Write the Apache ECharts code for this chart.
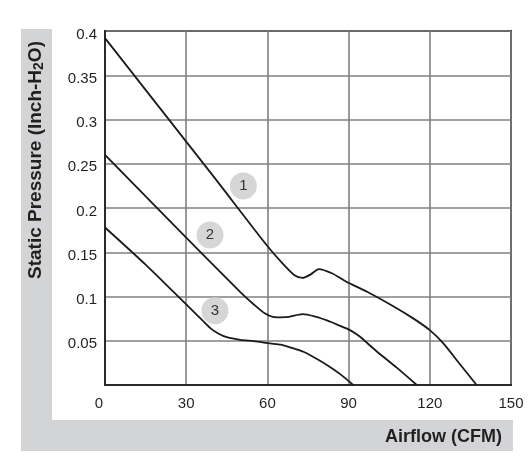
<!DOCTYPE html>
<html>
<head>
<meta charset="utf-8">
<script src="https://cdn.jsdelivr.net/npm/echarts@6/dist/echarts.min.js"></script>
<style>
html,body{margin:0;padding:0;background:#fff;}
#c{width:529px;height:468px;}
</style>
</head>
<body>
<div id="c"></div>
<script>
// Data (Airflow CFM, Static Pressure Inch-H2O)
const xTicks = [0, 30, 60, 90, 120, 150];
const yTicks = [0, 0.05, 0.1, 0.15, 0.2, 0.25, 0.3, 0.35, 0.4];
const curve1 = [[0,0.392],[20,0.314],[40,0.236],[60,0.157],[66,0.136],[70,0.124],[73,0.121],[76,0.125],[79,0.131],[84,0.126],[89,0.117],[97,0.105],[106.5,0.089],[114,0.075],[120,0.062],[125,0.047],[131,0.024],[137.3,0]];
const curve2 = [[0,0.26],[25,0.182],[50,0.105],[55,0.091],[59,0.081],[62,0.077],[65,0.0765],[68,0.077],[73,0.080],[78,0.077],[82,0.073],[86,0.068],[90.5,0.062],[94,0.055],[100,0.039],[108,0.019],[115.2,0]];
const curve3 = [[0,0.178],[15,0.136],[30,0.091],[36,0.073],[39,0.064],[42,0.058],[45,0.054],[50,0.051],[55,0.0495],[61,0.047],[65,0.0455],[70,0.041],[73.3,0.0376],[78,0.030],[82,0.0226],[87,0.012],[91.7,0]];
const curveNames = ['1', '2', '3'];
const badgePos = [[51.1,0.225],[38.8,0.1695],[40.6,0.084]];

const chart = echarts.init(document.getElementById('c'), null, {renderer:'canvas'});
const txt = '#231f20';
const ff = 'Liberation Sans, Arial';
const lineSeries = [curve1, curve2, curve3].map((d, i) => ({
  type: 'line', name: curveNames[i], data: d, symbol: 'none',
  smooth: 0.25,
  lineStyle: {color: '#1a1a1a', width: 1.8}, z: 3
}));
chart.setOption({
  animation: false,
  backgroundColor: '#fff',
  graphic: [
    {type:'rect', shape:{x:21, y:29, width:31, height:422}, style:{fill:'#d3d4d6'}, z:-10},
    {type:'rect', shape:{x:21, y:420, width:492, height:31}, style:{fill:'#d3d4d6'}, z:-10},
    {type:'text', x:36, y:160, rotation: Math.PI/2,
      style:{text:'{a|Static Pressure (Inch-H}{s|2}{a|O)}', align:'center', verticalAlign:'middle',
        rich:{a:{fontFamily:ff, fontWeight:'bold', fontSize:19, fill:txt},
              s:{fontFamily:ff, fontWeight:'bold', fontSize:14, fill:txt, padding:[7,0,0,0]}}}, z:10},
    {type:'text', x:502, y:437,
      style:{text:'Airflow (CFM)', align:'right', verticalAlign:'middle', fontFamily:ff, fontWeight:'bold', fontSize:18, fill:txt}, z:10}
  ],
  grid: {left:105, right:18, top:31, bottom:83, show:true, borderColor:'#2a2a2a', borderWidth:2, backgroundColor:'#fff'},
  xAxis: {
    type:'value', min:xTicks[0], max:xTicks[xTicks.length-1], interval:30,
    axisLine:{show:true, lineStyle:{color:'#2a2a2a', width:2}},
    axisTick:{show:false},
    splitLine:{show:true, lineStyle:{color:'#808080', width:1.6}},
    axisLabel:{color:txt, fontSize:15, fontFamily:ff, margin:11,
      formatter: v => v === 0 ? '{z|0}' : String(v),
      rich:{z:{color:txt, fontSize:15, fontFamily:ff, padding:[0,12,0,0]}}}
  },
  yAxis: {
    type:'value', min:yTicks[0], max:yTicks[yTicks.length-1], interval:0.05,
    axisLine:{show:true, lineStyle:{color:'#2a2a2a', width:2}},
    axisTick:{show:false},
    splitLine:{show:true, lineStyle:{color:'#808080', width:1.6}},
    axisLabel:{color:txt, fontSize:15, fontFamily:ff, margin:8,
      formatter: v => v === 0 ? '' : '{v|' + (+v.toFixed(2)) + '}',
      rich:{v:{color:txt, fontSize:15, fontFamily:ff, padding:[7,0,0,0]}}}
  },
  series: lineSeries.concat([{
    type:'scatter', data: badgePos.map((p,i)=>({value:p, name:curveNames[i]})),
    symbolSize: 27, itemStyle:{color:'#d6d6d7', opacity:1}, z:4,
    label:{show:true, position:'inside', formatter: p => p.name, color:'#333', fontSize:15, fontFamily:ff}
  }])
});
</script>
</body>
</html>
